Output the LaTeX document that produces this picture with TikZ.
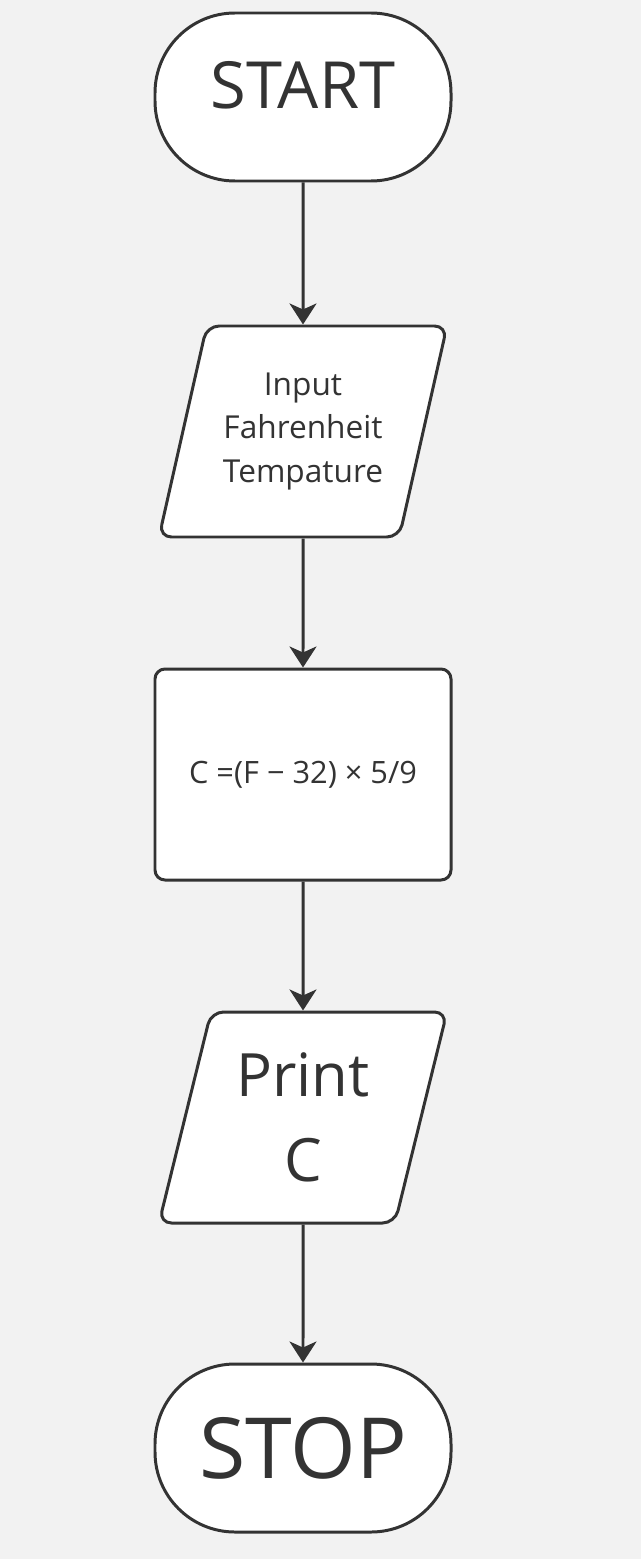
\documentclass[tikz,border=0pt]{standalone}
\usepackage{fontspec}
\setmainfont{Open Sans}
\usetikzlibrary{shapes.geometric,arrows.meta}
\definecolor{ink}{HTML}{333333}
\definecolor{paper}{HTML}{F2F2F2}
\tikzset{
  terminal/.style={draw=ink, fill=white, line width=1.7pt, rounded corners=1.6cm,
    minimum width=5.92cm, minimum height=3.36cm, inner sep=0pt, text=ink},
  iobox/.style={trapezium, trapezium left angle=68, trapezium right angle=112,
    trapezium stretches body, draw=ink, fill=white, line width=1.7pt,
    rounded corners=0.25cm, minimum width=5.76cm, minimum height=4.22cm,
    inner sep=0pt, align=center, text=ink},
  procbox/.style={draw=ink, fill=white, line width=1.7pt, rounded corners=0.2cm,
    minimum width=5.92cm, minimum height=4.22cm, inner sep=0pt, text=ink},
  flow/.style={-{Stealth[length=0.42cm, width=0.54cm, inset=0.12cm]},
    draw=ink, line width=1.7pt}
}
\begin{document}
\begin{tikzpicture}
  \fill[paper] (0,0) rectangle (12.82,-31.18);
  \draw
    (6.06,-1.94) node[terminal, font=\fontsize{37}{44}\selectfont, text depth=0.48cm] (start){START}
    (6.06,-8.63) node[iobox, font=\fontsize{18}{25}\selectfont] (input){Input\\Fahrenheit\\Tempature}
    (6.06,-15.49) node[procbox, font=\fontsize{17.5}{21}\selectfont] (calc){C =(F − 32) × 5/9}
    (6.06,-22.35) node[iobox, font=\fontsize{34}{48}\selectfont] (print){Print\\C}
    (6.06,-28.96) node[terminal, font=\fontsize{48}{58}\selectfont] (stop){STOP};
  \begin{scope}[flow]
    \draw (start) to (input);
    \draw (input) to (calc);
    \draw (calc) to (print);
    \draw (print) to (stop);
  \end{scope}
\end{tikzpicture}
\end{document}
